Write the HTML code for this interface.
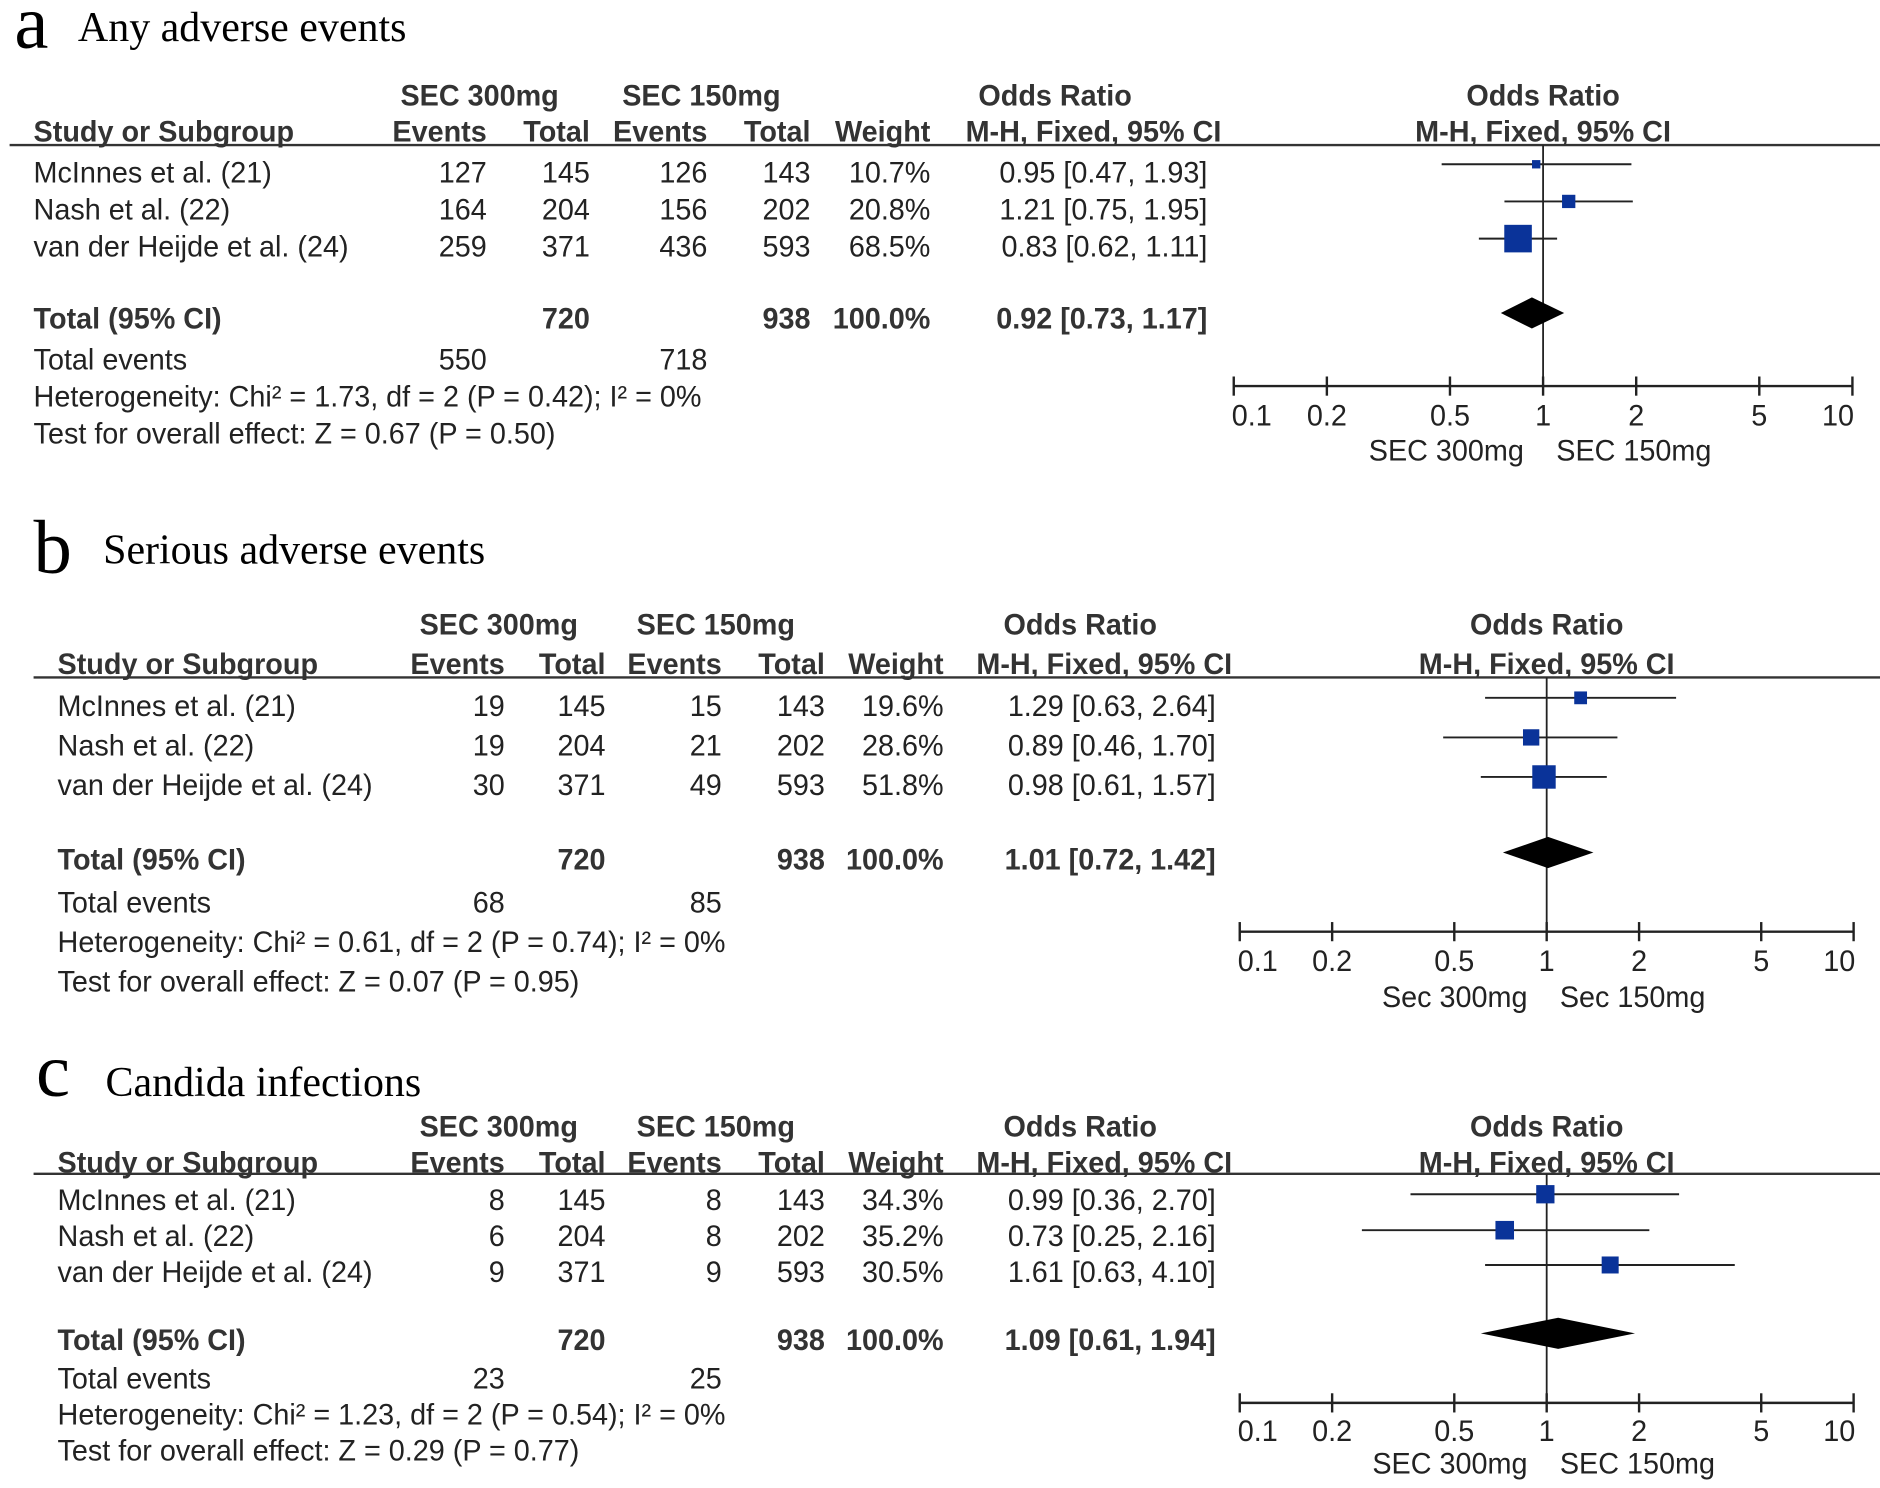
<!DOCTYPE html>
<html><head><meta charset="utf-8"><style>
html,body{margin:0;padding:0;background:#fff;}
svg{display:block;}
text{font-family:"Liberation Sans",Arial,sans-serif;fill:#222;}
.b{font-weight:bold;fill:#333;}
.serif{font-family:"Liberation Serif",serif;fill:#000;}
</style></head><body>
<svg id="fig" width="1880" height="1488" viewBox="0 0 1568 1241" preserveAspectRatio="none" xmlns="http://www.w3.org/2000/svg"></svg>
<script>
// ---- data ----
const studies = ["McInnes et al. (21)", "Nash et al. (22)", "van der Heijde et al. (24)"];
const panelLetters = ["a", "b", "c"];
const panelTitles = ["Any adverse events", "Serious adverse events", "Candida infections"];
const events300 = [[127,164,259],[19,19,30],[8,6,9]];
const total300 = [[145,204,371],[145,204,371],[145,204,371]];
const events150 = [[126,156,436],[15,21,49],[8,8,9]];
const total150 = [[143,202,593],[143,202,593],[143,202,593]];
const weights = [[10.7,20.8,68.5],[19.6,28.6,51.8],[34.3,35.2,30.5]];
const orVals = [[0.95,1.21,0.83],[1.29,0.89,0.98],[0.99,0.73,1.61]];
const orLow = [[0.47,0.75,0.62],[0.63,0.46,0.61],[0.36,0.25,0.63]];
const orHigh = [[1.93,1.95,1.11],[2.64,1.70,1.57],[2.70,2.16,4.10]];
const totOr = [0.92,1.01,1.09];
const totLow = [0.73,0.72,0.61];
const totHigh = [1.17,1.42,1.94];
const totEv300 = [550,68,23];
const totEv150 = [718,85,25];
const hetText = ["Heterogeneity: Chi² = 1.73, df = 2 (P = 0.42); I² = 0%","Heterogeneity: Chi² = 0.61, df = 2 (P = 0.74); I² = 0%","Heterogeneity: Chi² = 1.23, df = 2 (P = 0.54); I² = 0%"];
const testText = ["Test for overall effect: Z = 0.67 (P = 0.50)","Test for overall effect: Z = 0.07 (P = 0.95)","Test for overall effect: Z = 0.29 (P = 0.77)"];
const axisTicks = [0.1,0.2,0.5,1,2,5,10];
const favourLabels = [["SEC 300mg","SEC 150mg"],["Sec 300mg","Sec 150mg"],["SEC 300mg","SEC 150mg"]];

// ---- layout ----
const L = [
 {lx:12,ly:40,tx:65,ty:34,h1:88,h2:118,line:121,lineX0:8,x0:28,rows:[152,183,214],mk:[137,168,199],tot:274,dia:261,te:308,het:339,test:370,
  cols:[406,492,590,676,776,1007],g1:400,g2:585,orC:880,ciC:912,ax0:1029,ax1:1545,axY:322,tickY:355,favY:384},
 {lx:28,ly:478,tx:86,ty:470,h1:529,h2:562,line:565,lineX0:28,x0:48,rows:[597,630,663],mk:[582,615,648],tot:725,dia:711,te:761,het:794,test:827,
  cols:[421,505,602,688,787,1014],g1:416,g2:597,orC:901,ciC:921,ax0:1034,ax1:1546,axY:777,tickY:810,favY:840},
 {lx:30,ly:914,tx:88,ty:914,h1:948,h2:978,line:979,lineX0:28,x0:48,rows:[1009,1039,1069],mk:[996,1026,1055],tot:1126,dia:1112,te:1158,het:1188,test:1218,
  cols:[421,505,602,688,787,1014],g1:416,g2:597,orC:901,ciC:921,ax0:1034,ax1:1546,axY:1170,tickY:1202,favY:1229}
];
const svg = document.getElementById('fig');
const NS = "http://www.w3.org/2000/svg";
const SX = 0.96;
function el(tag, attrs, txt){
  const e = document.createElementNS(NS, tag);
  for (const k in attrs) e.setAttribute(k, attrs[k]);
  if (txt !== undefined) e.textContent = txt;
  svg.appendChild(e);
  return e;
}
function txt(x,y,s,anchor,cls,size,name){
  const e = el('text',{x:x/SX,y:y,transform:'scale('+SX+',1)','text-anchor':anchor||'start','font-size':size||25,'class':cls||''},s);
  
  
  return e;
}
function stxt(x,y,s,size,name){
  const e = el('text',{x:x,y:y,'font-size':size,'class':'serif'},s);
  
  
  return e;
}
const FS = 25;
for (let p=0;p<3;p++){
  const g = L[p];
  const xs = v => g.ax0 + (Math.log10(v)+1)/2*(g.ax1-g.ax0);
  stxt(g.lx,g.ly,panelLetters[p],64,'panel-letter-'+panelLetters[p]);
  stxt(g.tx,g.ty,panelTitles[p],35,'panel-title-'+panelLetters[p]);
  // headers
  txt(g.g1,g.h1,'SEC 300mg','middle','b',FS,'group-header-300mg');
  txt(g.g2,g.h1,'SEC 150mg','middle','b',FS,'group-header-150mg');
  txt(g.orC,g.h1,'Odds Ratio','middle','b',FS,'odds-ratio-header');
  txt(xs(1),g.h1,'Odds Ratio','middle','b',FS,'forest-odds-ratio-header');
  txt(g.x0,g.h2,'Study or Subgroup','start','b',FS,'study-column-header');
  txt(g.cols[0],g.h2,'Events','end','b',FS,'events-300-header');
  txt(g.cols[1],g.h2,'Total','end','b',FS,'total-300-header');
  txt(g.cols[2],g.h2,'Events','end','b',FS,'events-150-header');
  txt(g.cols[3],g.h2,'Total','end','b',FS,'total-150-header');
  txt(g.cols[4],g.h2,'Weight','end','b',FS,'weight-header');
  txt(g.ciC,g.h2,'M-H, Fixed, 95% CI','middle','b',FS,'ci-header');
  txt(xs(1),g.h2,'M-H, Fixed, 95% CI','middle','b',FS,'forest-ci-header');
  const hl = el('line',{x1:g.lineX0,y1:g.line,x2:1568,y2:g.line,stroke:'#333','stroke-width':2});
  
  
  // rows
  for (let i=0;i<3;i++){
    const y = g.rows[i];
    txt(g.x0,y,studies[i],'start','',FS,'study-name');
    txt(g.cols[0],y,String(events300[p][i]),'end','',FS,'events-300');
    txt(g.cols[1],y,String(total300[p][i]),'end','',FS,'total-300');
    txt(g.cols[2],y,String(events150[p][i]),'end','',FS,'events-150');
    txt(g.cols[3],y,String(total150[p][i]),'end','',FS,'total-150');
    txt(g.cols[4],y,weights[p][i].toFixed(1)+'%','end','',FS,'weight');
    txt(g.cols[5],y,orVals[p][i].toFixed(2)+' ['+orLow[p][i].toFixed(2)+', '+orHigh[p][i].toFixed(2)+']','end','',FS,'odds-ratio-ci');
  }
  txt(g.x0,g.tot,'Total (95% CI)','start','b',FS,'total-label');
  txt(g.cols[1],g.tot,'720','end','b',FS,'total-300-sum');
  txt(g.cols[3],g.tot,'938','end','b',FS,'total-150-sum');
  txt(g.cols[4],g.tot,'100.0%','end','b',FS,'total-weight');
  txt(g.cols[5],g.tot,totOr[p].toFixed(2)+' ['+totLow[p].toFixed(2)+', '+totHigh[p].toFixed(2)+']','end','b',FS,'total-odds-ratio');
  txt(g.x0,g.te,'Total events','start','',FS,'total-events-label');
  txt(g.cols[0],g.te,String(totEv300[p]),'end','',FS,'total-events-300');
  txt(g.cols[2],g.te,String(totEv150[p]),'end','',FS,'total-events-150');
  txt(g.x0,g.het,hetText[p],'start','',FS,'heterogeneity');
  txt(g.x0,g.test,testText[p],'start','',FS,'overall-effect-test');
  // forest
  const vl = el('line',{x1:xs(1),y1:g.line,x2:xs(1),y2:g.axY,stroke:'#222','stroke-width':1.5});
  
  
  for (let i=0;i<3;i++){
    const y = g.mk[i];
    const ci = el('line',{x1:xs(orLow[p][i]),y1:y,x2:xs(orHigh[p][i]),y2:y,stroke:'#222','stroke-width':1.6});
    
    
    const s = 3.2*Math.sqrt(weights[p][i]) - 3.5;
    const sq = el('rect',{x:xs(orVals[p][i])-s/2,y:y-s/2,width:s,height:s,fill:'#0a3399'});
    
    
  }
  const dh = 13;
  const d = el('polygon',{points:[xs(totLow[p])+','+g.dia, xs(totOr[p])+','+(g.dia-dh), xs(totHigh[p])+','+g.dia, xs(totOr[p])+','+(g.dia+dh)].join(' '),fill:'#000'});
  
  
  const ax = el('line',{x1:g.ax0,y1:g.axY,x2:g.ax1,y2:g.axY,stroke:'#222','stroke-width':2});
  
  
  for (const t of axisTicks){
    const tk = el('line',{x1:xs(t),y1:g.axY-8,x2:xs(t),y2:g.axY+8,stroke:'#222','stroke-width':2});
    
    
    let tx = xs(t);
    if (t===0.1) tx += 15;
    if (t===10) tx -= 12;
    txt(tx,g.tickY,String(t),'middle','',FS,'x-tick-label');
  }
  txt(xs(1)-16,g.favY,favourLabels[p][0],'end','',FS,'favours-left-label');
  txt(xs(1)+11,g.favY,favourLabels[p][1],'start','',FS,'favours-right-label');
}
</script>
</body></html>
